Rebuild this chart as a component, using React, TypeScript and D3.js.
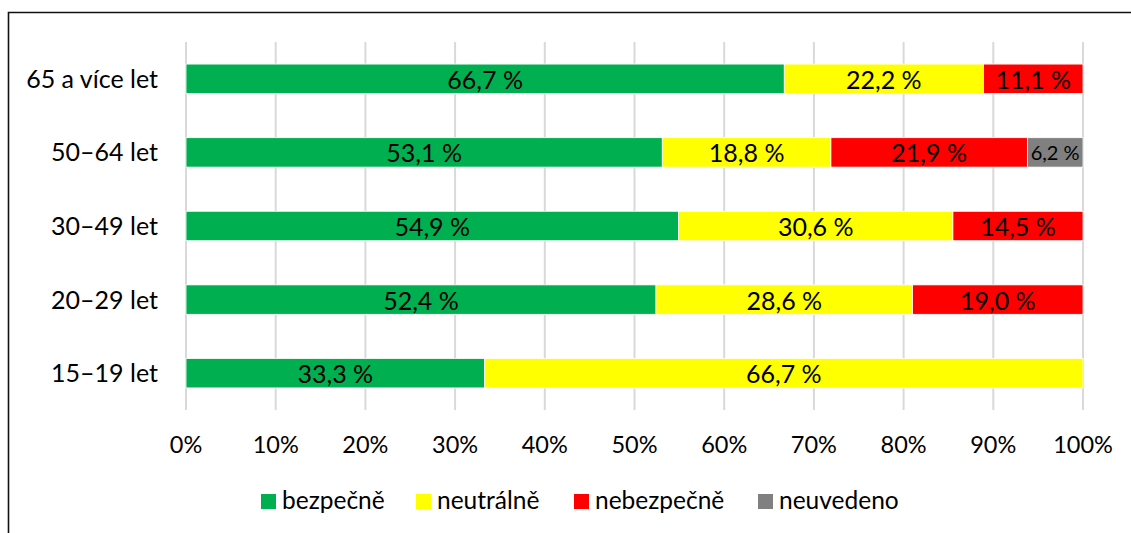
import React, { useEffect, useRef } from 'react';
import * as d3 from 'd3';

// kategorie shora dolů
const categories = ['65 a více let', '50–64 let', '30–49 let', '20–29 let', '15–19 let'];
const seriesNames = ['bezpečně', 'neutrálně', 'nebezpečně', 'neuvedeno'];
const seriesColors = ['#00b050', '#ffff00', '#ff0000', '#808080'];
const bezpecne = [66.7, 53.1, 54.9, 52.4, 33.3];
const neutralne = [22.2, 18.8, 30.6, 28.6, 66.7];
const nebezpecne = [11.1, 21.9, 14.5, 19.0, 0];
const neuvedeno = [0, 6.2, 0, 0, 0];
const tickValues = [0, 10, 20, 30, 40, 50, 60, 70, 80, 90, 100];

const App = () => {
  const svgRef = useRef<SVGSVGElement | null>(null);

  useEffect(() => {
    const width = 1131;
    const height = 533;
    const font = 'Lato, Carlito, Calibri, sans-serif';

    const svg = d3.select(svgRef.current).attr('width', width).attr('height', height);
    svg.selectAll('*').remove();

    // rámeček grafu (jen vlevo a nahoře je vidět)
    svg.append('path')
      .attr('d', `M8.5,${height} L8.5,12.5 L${width},12.5`)
      .attr('fill', 'none')
      .attr('stroke', '#111')
      .attr('stroke-width', 1.6);

    const x = d3.scaleLinear().domain([0, 100]).range([186, 1083]);
    const y = d3.scaleBand().domain(categories).range([42, 410]).paddingInner(0.6).paddingOuter(0.3);

    // mřížka
    svg.append('g').selectAll('line')
      .data(tickValues)
      .enter().append('line')
      .attr('x1', d => x(d)).attr('x2', d => x(d))
      .attr('y1', 42).attr('y2', 410)
      .attr('stroke', '#d9d9d9')
      .attr('stroke-width', 2);

    // popisky osy x
    svg.append('g').selectAll('text')
      .data(tickValues)
      .enter().append('text')
      .attr('x', d => x(d))
      .attr('y', 453)
      .attr('text-anchor', 'middle')
      .style('font-family', font)
      .style('font-size', '23.5px')
      .attr('fill', '#000')
      .text(d => `${d}%`);

    // popisky kategorií
    svg.append('g').selectAll('text')
      .data(categories)
      .enter().append('text')
      .attr('x', 158)
      .attr('y', d => (y(d) as number) + y.bandwidth() / 2 + 9)
      .attr('text-anchor', 'end')
      .style('font-family', font)
      .style('font-size', '25px')
      .attr('fill', '#000')
      .text(d => d);

    const rows = categories.map((c, i) => ({
      category: c,
      values: [bezpecne[i], neutralne[i], nebezpecne[i], neuvedeno[i]],
    }));

    rows.forEach(row => {
      let acc = 0;
      row.values.forEach((v, j) => {
        if (v <= 0) return;
        const x0 = x(acc);
        const x1 = x(acc + v);
        acc += v;
        const yy = y(row.category) as number;
        svg.append('rect')
          .attr('x', x0)
          .attr('y', yy)
          .attr('width', x1 - x0)
          .attr('height', y.bandwidth())
          .attr('fill', seriesColors[j])
          .attr('stroke', '#fff')
          .attr('stroke-width', 0.8);
        const small = v < 8;
        svg.append('text')
          .attr('x', (x0 + x1) / 2)
          .attr('y', yy + y.bandwidth() / 2 + (small ? 7.5 : 10))
          .attr('text-anchor', 'middle')
          .style('font-family', font)
          .style('font-size', small ? '20px' : '25px')
          .attr('fill', '#000')
          .text(`${v.toFixed(1).replace('.', ',')} %`);
      });
    });

    // legenda
    const legendX = [261, 416, 574, 758];
    const legend = svg.append('g');
    seriesNames.forEach((name, i) => {
      legend.append('rect')
        .attr('x', legendX[i])
        .attr('y', 494)
        .attr('width', 15)
        .attr('height', 15)
        .attr('fill', seriesColors[i]);
      legend.append('text')
        .attr('x', legendX[i] + 21)
        .attr('y', 509)
        .style('font-family', font)
        .style('font-size', '24.5px')
        .attr('fill', '#000')
        .text(name);
    });
  }, []);

  return (
    <svg ref={svgRef} style={{ position: 'absolute', left: 0, top: 0, display: 'block' }}></svg>
  );
};

export default App;
